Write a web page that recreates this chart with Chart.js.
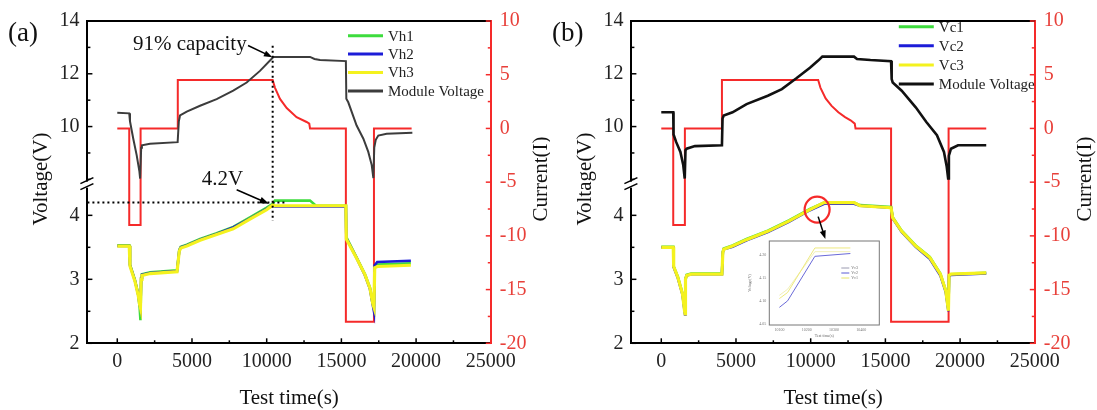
<!DOCTYPE html>
<html>
<head>
<meta charset="utf-8">
<script src="https://cdn.jsdelivr.net/npm/chart.js@4.4.1/dist/chart.umd.min.js"></script>
<style>
  body { margin: 0; background: #fff; width: 1097px; height: 410px; overflow: hidden; position: relative; }
  canvas { position: absolute; top: 0; }
</style>
</head>
<body>
<canvas id="chartA" width="550" height="410" style="left:0"></canvas>
<canvas id="chartB" width="553" height="410" style="left:544px"></canvas>
<canvas id="inset" width="150" height="115" style="left:740px; top:232px"></canvas>
<script>
// ---- DATOS ----
const timeTicks = [0, 5000, 10000, 15000, 20000, 25000]
const timeMinor = [2500, 7500, 12500, 17500, 22500]
const voltHighTicks = [10, 12, 14]
const voltHighMinor = [8, 9, 11, 13]
const voltLowTicks = [2, 3, 4]
const voltLowMinor = [2.5, 3.5]
const currentTicks = [-20, -15, -10, -5, 0, 5, 10]
const currentMinor = [-17.5, -12.5, -7.5, -2.5, 2.5, 7.5]

// panel (a)
const curTimeA = [0, 800, 800, 1560, 1560, 4050, 4050, 10400, 10550, 10890, 11340, 12000, 12670, 12850, 12900, 15300, 15300, 17180, 17180, 19700]
const curValA = [0, 0, -9, -9, 0, 0, 4.5, 4.5, 3.8, 2.75, 1.9, 1.05, 0.6, 0.45, 0, 0, -18, -18, 0, 0]
const modTimeA = [0, 800, 850, 1070, 1300, 1480, 1530, 1600, 1650, 2190, 4040, 4120, 4200, 4650, 5540, 6650, 7760, 8660, 9550, 10400, 10450, 12900, 13200, 13570, 15300, 15330, 15460, 16020, 16470, 16800, 17030, 17140, 17200, 17300, 17470, 18030, 19750]
const modValA = [10.52, 10.5, 10.2, 9.54, 8.91, 8.3, 8.03, 9.2, 9.29, 9.35, 9.41, 10.2, 10.42, 10.57, 10.79, 11.04, 11.36, 11.67, 12.11, 12.61, 12.64, 12.64, 12.56, 12.52, 12.48, 11.05, 10.92, 10.04, 9.54, 9.04, 8.54, 8.05, 9.2, 9.5, 9.66, 9.73, 9.77]
const cellTimeA = [0, 800, 850, 1180, 1400, 1500, 1550, 1600, 1650, 2200, 4000, 4150, 4250, 4650, 5540, 6650, 7760, 8880, 10000, 10400, 10550, 12900, 13300, 15300, 15330, 16020, 16580, 16910, 17100, 17180, 17230, 17400, 19650]
const vh1A = [3.53, 3.53, 3.23, 2.99, 2.77, 2.55, 2.36, 3.02, 3.08, 3.11, 3.14, 3.46, 3.51, 3.54, 3.63, 3.72, 3.82, 3.97, 4.12, 4.18, 4.23, 4.23, 4.15, 4.15, 3.66, 3.34, 3.08, 2.87, 2.62, 2.55, 3.2, 3.23, 3.25]
const vh2A = [3.52, 3.52, 3.22, 2.98, 2.76, 2.6, 2.55, 3.02, 3.07, 3.1, 3.13, 3.45, 3.5, 3.53, 3.62, 3.71, 3.81, 3.95, 4.1, 4.16, 4.14, 4.14, 4.14, 4.14, 3.64, 3.33, 3.06, 2.85, 2.6, 2.5, 3.22, 3.27, 3.29]
const vh3A = [3.52, 3.52, 3.21, 2.97, 2.75, 2.6, 2.55, 3.0, 3.06, 3.09, 3.12, 3.44, 3.49, 3.52, 3.61, 3.7, 3.79, 3.94, 4.09, 4.16, 4.15, 4.15, 4.15, 4.15, 3.63, 3.33, 3.07, 2.86, 2.62, 2.56, 3.18, 3.2, 3.22]

// panel (b)
const curTimeB = [0, 800, 800, 1580, 1580, 4060, 4060, 10500, 10650, 11000, 11400, 11850, 12300, 12670, 12950, 13000, 15380, 15380, 19230, 19230, 21750]
const curValB = [0, 0, -9, -9, 0, 0, 4.5, 4.5, 3.8, 2.8, 2.1, 1.5, 1.05, 0.76, 0.45, 0, 0, -18, -18, 0, 0]
const modTimeB = [0, 800, 820, 1000, 1280, 1470, 1570, 1620, 1700, 2250, 4060, 4100, 4180, 4770, 5710, 7130, 8070, 9020, 9950, 10500, 10780, 12900, 13100, 14000, 15380, 15420, 15490, 16090, 17030, 17740, 18450, 18920, 19100, 19200, 19250, 19390, 19860, 21750]
const modValB = [10.54, 10.54, 9.7, 9.41, 9.04, 8.54, 8.03, 9.1, 9.16, 9.26, 9.29, 10.3, 10.42, 10.54, 10.85, 11.17, 11.42, 11.82, 12.23, 12.5, 12.65, 12.65, 12.56, 12.52, 12.48, 11.8, 11.67, 11.36, 10.73, 10.17, 9.67, 9.04, 8.5, 8.03, 8.9, 9.16, 9.29, 9.29]
const cellTimeB = [0, 800, 830, 1110, 1420, 1560, 1590, 1620, 1700, 2000, 4060, 4120, 4180, 4770, 5710, 7130, 8540, 9950, 10900, 12900, 13300, 15380, 15490, 16090, 17030, 17970, 18680, 19040, 19220, 19260, 19390, 21750]
const vc1B = [3.51, 3.51, 3.2, 3.04, 2.78, 2.52, 2.47, 3.01, 3.07, 3.09, 3.09, 3.43, 3.48, 3.53, 3.63, 3.76, 3.92, 4.1, 4.2, 4.2, 4.16, 4.13, 3.97, 3.76, 3.53, 3.35, 3.09, 2.83, 2.52, 3.06, 3.08, 3.1]
const vc2B = [3.5, 3.5, 3.19, 3.02, 2.76, 2.5, 2.45, 3.0, 3.06, 3.08, 3.08, 3.42, 3.47, 3.51, 3.61, 3.74, 3.9, 4.08, 4.18, 4.18, 4.15, 4.12, 3.95, 3.74, 3.51, 3.32, 3.06, 2.8, 2.5, 3.05, 3.07, 3.09]
const vc3B = [3.5, 3.5, 3.2, 3.03, 2.77, 2.5, 2.46, 3.0, 3.06, 3.08, 3.08, 3.42, 3.47, 3.52, 3.62, 3.75, 3.91, 4.09, 4.2, 4.2, 4.15, 4.12, 3.96, 3.75, 3.52, 3.34, 3.08, 2.82, 2.51, 3.06, 3.08, 3.1]

// recuadro (inset)
const insetTicksX = [10100, 10200, 10300, 10400]
const insetTicksY = [4.05, 4.1, 4.15, 4.2]
const insetTime = [10100, 10130, 10230, 10360]
const insetV3 = [4.105, 4.118, 4.214, 4.214]
const insetV1 = [4.112, 4.125, 4.206, 4.206]
const insetV2 = [4.086, 4.1, 4.196, 4.202]

// ---- ESTILO ----
const SERIF = 'Liberation Serif'
const ROJO = '#f52a2a'
const VERDE = '#3ddc3d'
const AZUL = '#1c1cd8'
const AMARILLO = '#f4f21e'

Chart.defaults.font.family = SERIF

function serie(tiempos, valores) {
    return tiempos.map((t, i) => ({ x: t, y: valores[i] }))
}

function linea(ctx, x1, y1, x2, y2) {
    ctx.beginPath()
    ctx.moveTo(x1, y1)
    ctx.lineTo(x2, y2)
    ctx.stroke()
}

function flecha(ctx, x1, y1, x2, y2, cabeza) {
    const ang = Math.atan2(y2 - y1, x2 - x1)
    ctx.lineWidth = 1.5
    linea(ctx, x1, y1, x2 - Math.cos(ang) * cabeza * 0.7, y2 - Math.sin(ang) * cabeza * 0.7)
    ctx.beginPath()
    ctx.moveTo(x2, y2)
    ctx.lineTo(x2 - cabeza * Math.cos(ang - 0.35), y2 - cabeza * Math.sin(ang - 0.35))
    ctx.lineTo(x2 - cabeza * Math.cos(ang + 0.35), y2 - cabeza * Math.sin(ang + 0.35))
    ctx.closePath()
    ctx.fill()
}

// marcas de graduacion hacia adentro
function marcas(ctx, escala, valores, largo, lado, area) {
    valores.forEach(v => {
        if (v < escala.min || v > escala.max) return
        const p = escala.getPixelForValue(v)
        if (lado === 'abajo') linea(ctx, p, area.bottom, p, area.bottom - largo)
        if (lado === 'izq') linea(ctx, area.left, p, area.left + largo, p)
        if (lado === 'der') linea(ctx, area.right, p, area.right - largo, p)
    })
}

const decoracion = {
    id: 'decoracion',
    afterDraw(chart, args, o) {
        const { ctx, chartArea: ca, scales } = chart
        const sx = scales.x, yH = scales.yHigh, yL = scales.yLow, yC = scales.yCur
        ctx.save()
        // borde superior
        ctx.strokeStyle = '#000'
        ctx.lineWidth = 2
        linea(ctx, ca.left - 1, ca.top, ca.right, ca.top)

        // marcas
        ctx.lineWidth = 1.5
        marcas(ctx, sx, timeTicks.filter(v => v < 25000), 5, 'abajo', ca)
        marcas(ctx, sx, timeMinor, 3, 'abajo', ca)
        marcas(ctx, yH, voltHighTicks, 5, 'izq', ca)
        marcas(ctx, yH, voltHighMinor, 3, 'izq', ca)
        marcas(ctx, yL, voltLowTicks, 5, 'izq', ca)
        marcas(ctx, yL, voltLowMinor, 3, 'izq', ca)
        ctx.strokeStyle = ROJO
        marcas(ctx, yC, currentTicks, 5, 'der', ca)
        marcas(ctx, yC, currentMinor, 3, 'der', ca)

        // corte del eje
        const yc = yH.bottom
        ctx.fillStyle = '#fff'
        ctx.fillRect(ca.left - 3, yc - 3, 6, 6)
        ctx.strokeStyle = '#000'
        ctx.lineWidth = 1.6
        linea(ctx, ca.left - 7, yc - 1, ca.left + 6, yc - 7)
        linea(ctx, ca.left - 7, yc + 5, ca.left + 6, yc - 1)

        // titulos
        ctx.fillStyle = '#111'
        ctx.font = '21px ' + SERIF
        ctx.textAlign = 'center'
        ctx.textBaseline = 'middle'
        ctx.fillText('Test time(s)', (ca.left + ca.right) / 2, 398)
        ctx.save()
        ctx.translate(41.5, 179)
        ctx.rotate(-Math.PI / 2)
        ctx.fillText('Voltage(V)', 0, 0)
        ctx.restore()
        ctx.save()
        ctx.translate(541, 179)
        ctx.rotate(-Math.PI / 2)
        ctx.fillText('Current(I)', 0, 0)
        ctx.restore()
        ctx.font = '27px ' + SERIF
        ctx.textAlign = 'left'
        ctx.fillText(o.etiqueta, 8, 34)

        // leyenda
        ctx.font = '15px ' + SERIF
        ctx.textBaseline = 'middle'
        o.leyenda.forEach((item, i) => {
            const y = o.leyY + i * o.leyPaso
            ctx.strokeStyle = item.color
            ctx.lineWidth = 3
            linea(ctx, o.leyX, y, o.leyX + 35, y)
            ctx.fillStyle = '#222'
            ctx.fillText(item.texto, o.leyX + 40, y + 1)
        })

        // anotaciones
        ctx.strokeStyle = '#000'
        ctx.fillStyle = '#000'
        if (o.anotaA) {
            const xv = sx.getPixelForValue(10400)
            ctx.lineWidth = 2
            ctx.setLineDash([2, 3])
            linea(ctx, xv, yH.getPixelForValue(13.06), xv, yL.getPixelForValue(3.91))
            linea(ctx, ca.left, yL.getPixelForValue(4.2), sx.getPixelForValue(11250), yL.getPixelForValue(4.2))
            ctx.setLineDash([])
            ctx.font = '21px ' + SERIF
            ctx.fillStyle = '#111'
            ctx.fillText('91% capacity', sx.getPixelForValue(1050), yH.getPixelForValue(13.1))
            ctx.fillText('4.2V', sx.getPixelForValue(5650), yH.getPixelForValue(7.99))
            ctx.fillStyle = '#000'
            flecha(ctx, sx.getPixelForValue(8750), yH.getPixelForValue(13.07), sx.getPixelForValue(10380), yH.getPixelForValue(12.63), 9)
            flecha(ctx, sx.getPixelForValue(7990), yL.getPixelForValue(4.4), sx.getPixelForValue(10150), yL.getPixelForValue(4.18), 10)
        }
        if (o.anotaB) {
            const cx = sx.getPixelForValue(10430), cy = yL.getPixelForValue(4.09)
            ctx.strokeStyle = ROJO
            ctx.lineWidth = 2.2
            ctx.beginPath()
            ctx.ellipse(cx, cy, 12.5, 13, 0, 0, Math.PI * 2)
            ctx.stroke()
            ctx.strokeStyle = '#000'
            flecha(ctx, sx.getPixelForValue(10500), yL.getPixelForValue(3.98), sx.getPixelForValue(10980), yL.getPixelForValue(3.63), 9)
        }
        ctx.restore()
    }
}

function escalas(ancho) {
    const fuente = { family: SERIF, size: 20 }
    return {
        x: {
            type: 'linear', min: -2000, max: 25000,
            afterBuildTicks: s => { s.ticks = timeTicks.map(v => ({ value: v })) },
            afterFit: s => { s.height = 410 - 343.3 },
            grid: { display: false, drawTicks: false },
            border: { color: '#000', width: 2 },
            ticks: { font: fuente, color: '#222', padding: 6, maxRotation: 0, autoSkip: false, callback: v => String(v) }
        },
        yLow: {
            type: 'linear', position: 'left', stack: 'volt', stackWeight: 160, min: 2, max: 4.48,
            afterBuildTicks: s => { s.ticks = voltLowTicks.map(v => ({ value: v })) },
            afterFit: s => { s.width = 87.4 },
            grid: { display: false, drawTicks: false },
            border: { color: '#000', width: 2 },
            ticks: { font: fuente, color: '#222', padding: 8, autoSkip: false, callback: v => String(v) }
        },
        yHigh: {
            type: 'linear', position: 'left', stack: 'volt', stackWeight: 165, min: 7.8, max: 14,
            afterBuildTicks: s => { s.ticks = voltHighTicks.map(v => ({ value: v })) },
            afterFit: s => { s.width = 87.4 },
            grid: { display: false, drawTicks: false },
            border: { color: '#000', width: 2 },
            ticks: { font: fuente, color: '#222', padding: 8, autoSkip: false, callback: v => String(v) }
        },
        yCur: {
            type: 'linear', position: 'right', min: -20, max: 10,
            afterBuildTicks: s => { s.ticks = currentTicks.map(v => ({ value: v })) },
            afterFit: s => { s.width = ancho - 490.8 },
            grid: { display: false, drawTicks: false },
            border: { color: ROJO, width: 2 },
            ticks: { font: fuente, color: '#e8403a', padding: 9, autoSkip: false, callback: v => String(v) }
        }
    }
}

function graficar(idElementoDom, ancho, celdas, modulo, corriente, extra) {
    const ctx = document.getElementById(idElementoDom).getContext('2d')
    return new Chart(ctx, {
        type: 'line',
        data: {
            datasets: [
                { label: celdas[2].nombre, data: celdas[2].datos, borderColor: AMARILLO, borderWidth: 3.2, yAxisID: 'yLow' },
                { label: celdas[1].nombre, data: celdas[1].datos, borderColor: AZUL, borderWidth: 2.6, yAxisID: 'yLow' },
                { label: celdas[0].nombre, data: celdas[0].datos, borderColor: VERDE, borderWidth: 2.6, yAxisID: 'yLow' },
                { label: 'Module Voltage', data: modulo, borderColor: extra.colorModulo, borderWidth: extra.anchoModulo, yAxisID: 'yHigh' },
                { label: 'Current', data: corriente, borderColor: ROJO, borderWidth: 2, yAxisID: 'yCur' },
            ],
        },
        options: {
            responsive: false,
            animation: false,
            events: [],
            layout: { padding: { top: 18, left: 0, right: 0, bottom: 0 } },
            elements: { point: { radius: 0 }, line: { tension: 0 } },
            plugins: {
                legend: { display: false },
                tooltip: { enabled: false },
                decoracion: {
                    etiqueta: extra.etiqueta,
                    leyX: extra.leyX, leyY: extra.leyY, leyPaso: extra.leyPaso,
                    anotaA: extra.anotaA, anotaB: extra.anotaB,
                    leyenda: [
                        { texto: celdas[0].nombre, color: VERDE },
                        { texto: celdas[1].nombre, color: AZUL },
                        { texto: celdas[2].nombre, color: AMARILLO },
                        { texto: 'Module Voltage', color: extra.colorModulo },
                    ],
                },
            },
            scales: escalas(ancho),
        },
        plugins: [decoracion],
    })
}

// ---- EJECUCION ----
graficar('chartA', 550,
    [{ nombre: 'Vh1', datos: serie(cellTimeA, vh1A) },
     { nombre: 'Vh2', datos: serie(cellTimeA, vh2A) },
     { nombre: 'Vh3', datos: serie(cellTimeA, vh3A) }],
    serie(modTimeA, modValA), serie(curTimeA, curValA),
    { etiqueta: '(a)', colorModulo: '#3c3c3c', anchoModulo: 2, leyX: 348, leyY: 35.7, leyPaso: 18.4, anotaA: true })

graficar('chartB', 553,
    [{ nombre: 'Vc1', datos: serie(cellTimeB, vc1B) },
     { nombre: 'Vc2', datos: serie(cellTimeB, vc2B) },
     { nombre: 'Vc3', datos: serie(cellTimeB, vc3B) }],
    serie(modTimeB, modValB), serie(curTimeB, curValB),
    { etiqueta: '(b)', colorModulo: '#111', anchoModulo: 2.6, leyX: 354.8, leyY: 26.7, leyPaso: 19.1, anotaB: true })

// recuadro pequeño
const marcoInset = {
    id: 'marcoInset',
    beforeDraw(chart) {
        const { ctx, chartArea: ca } = chart
        ctx.save()
        ctx.fillStyle = '#fff'
        ctx.fillRect(ca.left, ca.top, ca.right - ca.left, ca.bottom - ca.top)
        ctx.restore()
    },
    afterDraw(chart) {
        const { ctx, chartArea: ca } = chart
        ctx.save()
        ctx.strokeStyle = '#777'
        ctx.lineWidth = 1
        ctx.strokeRect(ca.left, ca.top, ca.right - ca.left, ca.bottom - ca.top)
        ctx.font = '4px ' + SERIF
        ctx.fillStyle = '#666'
        ctx.textAlign = 'center'
        ctx.fillText('Test time(s)', (ca.left + ca.right) / 2, ca.bottom + 12)
        ctx.save()
        ctx.translate(ca.left - 18, (ca.top + ca.bottom) / 2)
        ctx.rotate(-Math.PI / 2)
        ctx.fillText('Voltage(V)', 0, 0)
        ctx.restore()
        const items = [['Vc3', '#9a9ab0'], ['Vc2', '#5b5bd6'], ['Vc1', '#e8e46a']]
        ctx.textAlign = 'left'
        ctx.textBaseline = 'middle'
        items.forEach((it, i) => {
            const y = ca.top + 27 + i * 5
            ctx.strokeStyle = it[1]
            linea(ctx, ca.left + 72, y, ca.left + 80, y)
            ctx.fillText(it[0], ca.left + 82, y)
        })
        ctx.restore()
    }
}

new Chart(document.getElementById('inset').getContext('2d'), {
    type: 'line',
    data: {
        datasets: [
            { data: serie(insetTime, insetV3), borderColor: '#eeea80', borderWidth: 1 },
            { data: serie(insetTime, insetV1), borderColor: '#f2f0b8', borderWidth: 1 },
            { data: serie(insetTime, insetV2), borderColor: '#6a6ad8', borderWidth: 1 },
        ],
    },
    options: {
        responsive: false, animation: false, events: [],
        layout: { padding: { top: 9, right: 0 } },
        elements: { point: { radius: 0 }, line: { tension: 0 } },
        plugins: { legend: { display: false }, tooltip: { enabled: false } },
        scales: {
            x: {
                type: 'linear', min: 10063, max: 10466,
                afterBuildTicks: s => { s.ticks = insetTicksX.map(v => ({ value: v })) },
                afterFit: s => { s.height = 115 - 93 },
                grid: { display: false, drawTicks: false }, border: { display: false },
                ticks: { font: { size: 4 }, color: '#777', padding: 3, callback: v => String(v) }
            },
            y: {
                type: 'linear', min: 4.048, max: 4.229,
                afterBuildTicks: s => { s.ticks = insetTicksY.map(v => ({ value: v })) },
                afterFit: s => { s.width = 29.3 },
                grid: { display: false, drawTicks: false }, border: { display: false },
                ticks: { font: { size: 4 }, color: '#777', padding: 3, callback: v => v.toFixed(2) }
            },
            yr: { position: 'right', display: true, afterFit: s => { s.width = 150 - 139.3 }, ticks: { display: false }, grid: { display: false }, border: { display: false } }
        },
    },
    plugins: [marcoInset],
})
</script>
</body>
</html>
